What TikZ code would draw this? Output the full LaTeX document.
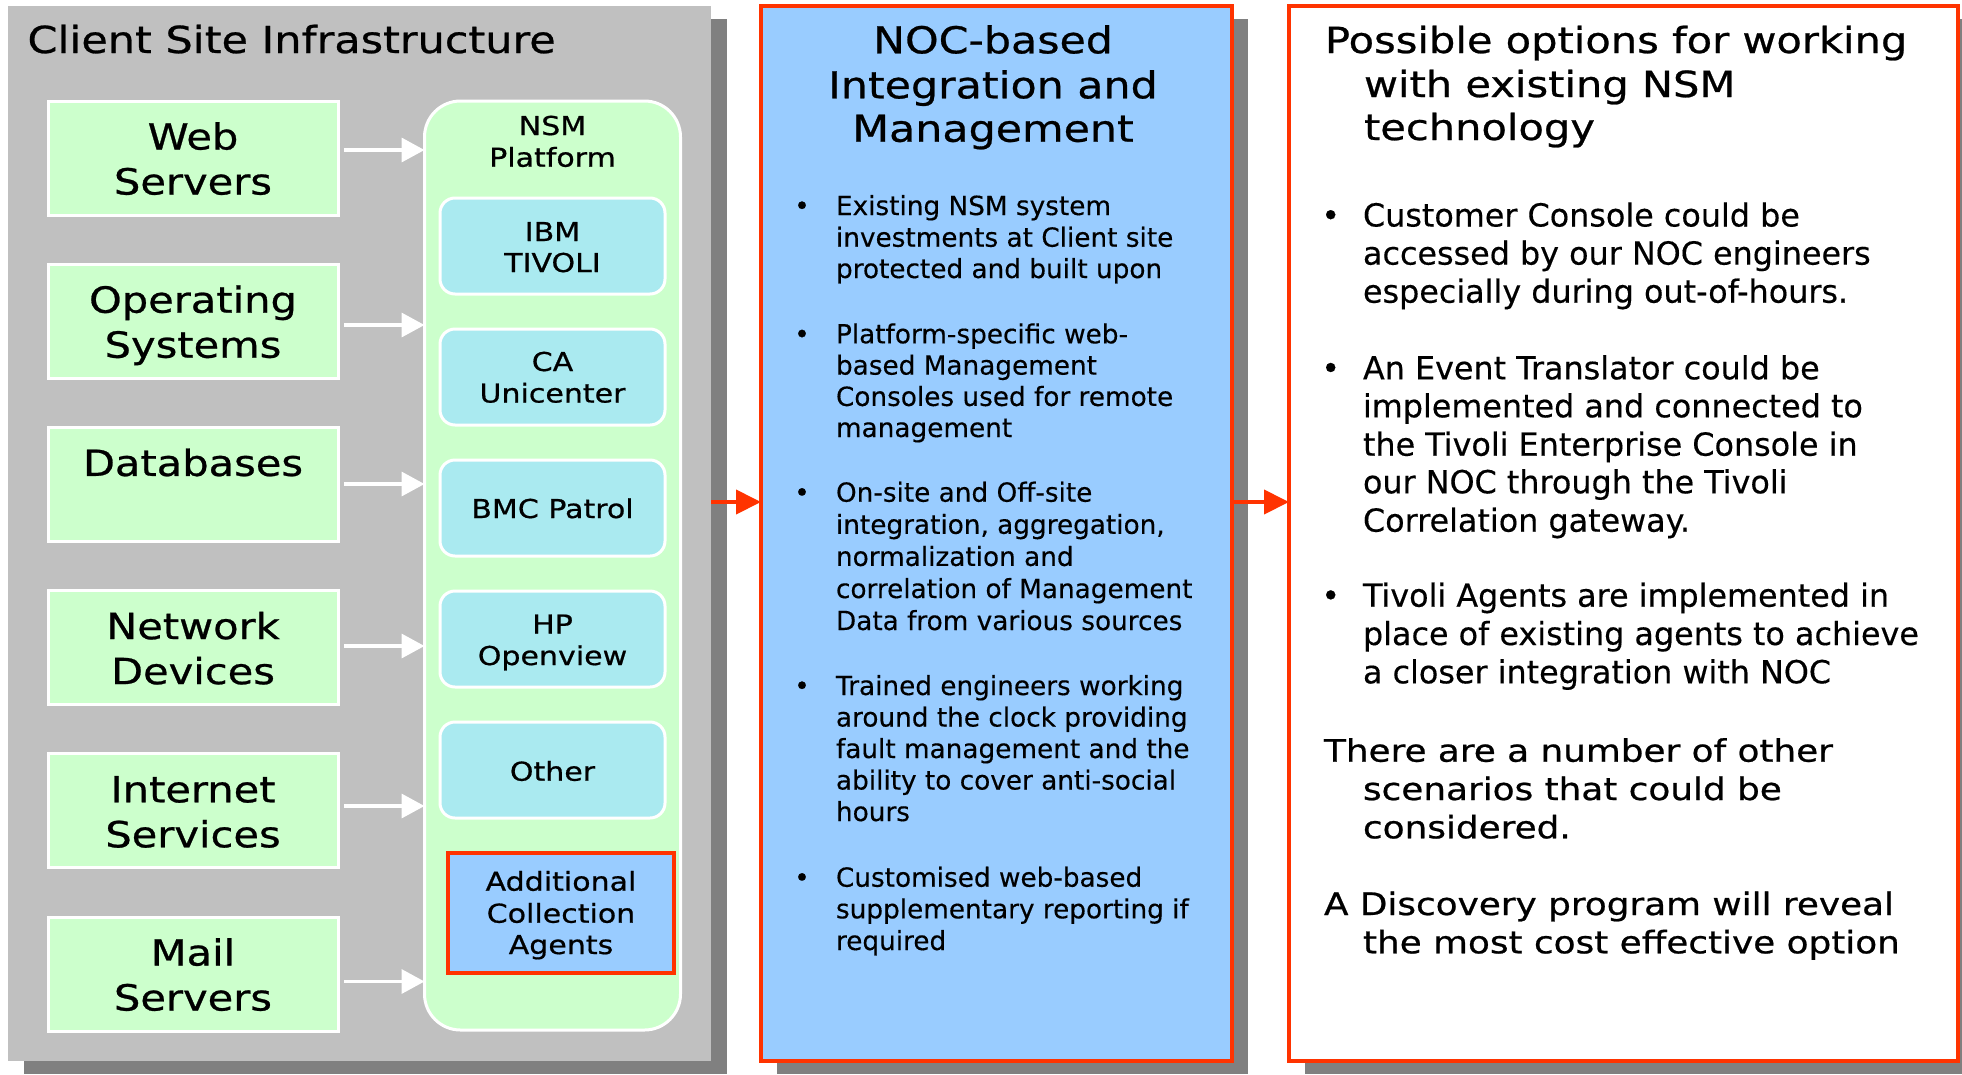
\documentclass[tikz,border=0pt]{standalone}
\usepackage{fontspec}
\setmainfont{DejaVu Sans}
\newfontfamily\vfont[FakeStretch=1.155,FakeBold=0.7]{DejaVu Sans}
\newfontfamily\bfont[FakeBold=0.35]{DejaVu Sans}
\usetikzlibrary{arrows.meta}
\definecolor{panelgray}{RGB}{192,192,192}
\definecolor{shadowgray}{RGB}{128,128,128}
\definecolor{srcgreen}{RGB}{204,255,204}
\definecolor{toolcyan}{RGB}{170,234,240}
\definecolor{nocblue}{RGB}{153,204,255}
\definecolor{redline}{RGB}{255,51,0}
\newcommand\fTitle{\vfont\fontsize{37.2}{44}\selectfont}
\newcommand\fSrc{\vfont\fontsize{36}{45}\selectfont}
\newcommand\fTool{\vfont\fontsize{26}{31}\selectfont}
\newcommand\fMidHead{\vfont\fontsize{37}{44}\selectfont}
\newcommand\fMid{\bfont\fontsize{26.3}{32}\selectfont}
\newcommand\fOpt{\bfont\fontsize{31.8}{38}\selectfont}
\newcommand\fOptHead{\vfont\fontsize{36}{44}\selectfont}
\newcommand\fOptSub{\vfont\fontsize{31}{38}\selectfont}
\begin{document}
\begin{tikzpicture}[x=1pt,y=-1pt,
  every node/.style={inner sep=0pt,outer sep=0pt},
  panel/.style={rectangle,minimum height=1055pt},
  srcbox/.style={rectangle,fill=srcgreen,draw=white,line width=3pt,minimum width=290pt,minimum height=114pt},
  toolbox/.style={rectangle,rounded corners=15pt,fill=toolcyan,draw=white,line width=3pt,minimum width=225pt,minimum height=96pt},
  srctext/.style={font=\fSrc,anchor=base},
  tooltext/.style={font=\fTool,anchor=base},
  midhead/.style={font=\fMidHead,anchor=base},
  midtext/.style={font=\fMid,anchor=base west},
  midbullet/.style={font=\fMid,anchor=base},
  opttext/.style={font=\fOpt,anchor=base west},
  optbullet/.style={font=\fOpt,anchor=base},
  opthead/.style={font=\fOptHead,anchor=base west},
  optsub/.style={font=\fOptSub,anchor=base west},
  warrow/.style={draw=white,line width=3.5pt,-{Triangle[length=23pt,width=24pt]}},
  rarrow/.style={draw=redline,line width=4pt,-{Triangle[length=25pt,width=24pt]}}]
\useasboundingbox (0,0) rectangle (1962,1074);
\fill[white] (0,0) rectangle (1962,1074);
% shadows
\fill[shadowgray] (23.5,19) rectangle (727,1074);
\fill[shadowgray] (777,19) rectangle (1248,1074);
\fill[shadowgray] (1305,19) rectangle (1974,1074);
% panels
\node[panel,fill=panelgray,minimum width=703.5pt] (client) at (359.25,533.5) {};
\node[panel,fill=nocblue,draw=redline,line width=3.5pt,minimum width=471pt] (noc) at (996.5,533.5) {};
\node[panel,fill=white,draw=redline,line width=3.5pt,minimum width=669pt] (opts) at (1623.5,533.5) {};
% left title
\node[font=\fTitle,anchor=base west] (ctitle) at (27.5,53) {Client Site Infrastructure};
% source boxes
\node[srcbox] (web) at (193,158) {};
\node[srcbox] (os) at (193,321.2) {};
\node[srcbox] (db) at (193,484.4) {};
\node[srcbox] (net) at (193,647.6) {};
\node[srcbox] (inet) at (193,810.8) {};
\node[srcbox] (mail) at (193,974) {};
\node[srctext] (webA) at (193,149.5) {Web};
\node[srctext] (webB) at (193,194.5) {Servers};
\node[srctext] (osA) at (193,312.7) {Operating};
\node[srctext] (osB) at (193,357.7) {Systems};
\node[srctext] (dbA) at (193,475.9) {Databases};
\node[srctext] (netA) at (193,639.1) {Network};
\node[srctext] (netB) at (193,684.1) {Devices};
\node[srctext] (inetA) at (193,802.3) {Internet};
\node[srctext] (inetB) at (193,847.3) {Services};
\node[srctext] (mailA) at (193,965.5) {Mail};
\node[srctext] (mailB) at (193,1010.5) {Servers};
% NSM platform
\node[rectangle,rounded corners=36pt,fill=srcgreen,draw=white,line width=3pt,minimum width=256pt,minimum height=929pt] (nsm) at (552.5,565.5) {};
\node[tooltext] (nsmA) at (552.5,135) {NSM};
\node[tooltext] (nsmB) at (552.5,166.7) {Platform};
\node[toolbox] (ibm) at (552.5,246) {};
\node[toolbox] (ca) at (552.5,377) {};
\node[toolbox] (bmc) at (552.5,508) {};
\node[toolbox] (hp) at (552.5,639) {};
\node[toolbox] (other) at (552.5,770) {};
\node[tooltext] (ibmA) at (552.5,241) {IBM};
\node[tooltext] (ibmB) at (552.5,272) {TIVOLI};
\node[tooltext] (caA) at (552.5,371) {CA};
\node[tooltext] (caB) at (552.5,402.5) {Unicenter};
\node[tooltext] (bmcA) at (552.5,518) {BMC Patrol};
\node[tooltext] (hpA) at (552.5,633.5) {HP};
\node[tooltext] (hpB) at (552.5,665) {Openview};
\node[tooltext] (otherA) at (552.5,780.7) {Other};
\node[rectangle,fill=nocblue,draw=redline,line width=3.5pt,minimum width=226pt,minimum height=120pt] (agents) at (561,913) {};
\node[tooltext] (agA) at (561,890.7) {Additional};
\node[tooltext] (agB) at (561,922.7) {Collection};
\node[tooltext] (agC) at (561,954) {Agents};
% white arrows
\coordinate (w1) at (344,150);
\coordinate (w2) at (344,325);
\coordinate (w3) at (344,484);
\coordinate (w4) at (344,646);
\coordinate (w5) at (344,806);
\coordinate (w6) at (344,981.5);
\foreach \w in {w1,w2,w3,w4,w5,w6}{\draw[warrow] (\w) -- (\w -| nsm.west);}
% red arrows
\coordinate (r1) at (711,502);
\coordinate (r2) at (1232,502);
\draw[rarrow] (r1) -- (r1 -| noc.west);
\draw[rarrow] (r2) -- (r2 -| opts.west);
% middle title
\node[midhead] (mhA) at (993,53.3) {NOC-based};
\node[midhead] (mhB) at (993,98.3) {Integration and};
\node[midhead] (mhC) at (993,141.7) {Management};
% middle bullets
\node[midbullet] (mb1) at (802,215) {•};
\node[midbullet] (mb2) at (802,343.3) {•};
\node[midbullet] (mb3) at (802,501.7) {•};
\node[midbullet] (mb4) at (802,695) {•};
\node[midbullet] (mb5) at (802,886.7) {•};
\node[midtext] (m01) at (836,215) {Existing NSM system};
\node[midtext] (m02) at (836,246.7) {investments at Client site};
\node[midtext] (m03) at (836,278) {protected and built upon};
\node[midtext] (m04) at (836,343.3) {Platform-specific web-};
\node[midtext] (m05) at (836,374.6) {based Management};
\node[midtext] (m06) at (836,405.9) {Consoles used for remote};
\node[midtext] (m07) at (836,437) {management};
\node[midtext] (m08) at (836,501.7) {On-site and Off-site};
\node[midtext] (m09) at (836,533.8) {integration, aggregation,};
\node[midtext] (m10) at (836,565.9) {normalization and};
\node[midtext] (m11) at (836,598) {correlation of Management};
\node[midtext] (m12) at (836,630) {Data from various sources};
\node[midtext] (m13) at (836,695) {Trained engineers working};
\node[midtext] (m14) at (836,726.5) {around the clock providing};
\node[midtext] (m15) at (836,758) {fault management and the};
\node[midtext] (m16) at (836,789.5) {ability to cover anti-social};
\node[midtext] (m17) at (836,821) {hours};
\node[midtext] (m18) at (836,886.7) {Customised web-based};
\node[midtext] (m19) at (836,918.3) {supplementary reporting if};
\node[midtext] (m20) at (836,950) {required};
% right column
\node[opthead] (ohA) at (1325,53) {Possible options for working};
\node[opthead] (ohB) at (1364,97) {with existing NSM};
\node[opthead] (ohC) at (1364,140) {technology};
\node[optbullet] (ob1) at (1330.7,226.5) {•};
\node[optbullet] (ob2) at (1330.7,379.3) {•};
\node[optbullet] (ob3) at (1330.7,606.7) {•};
\node[opttext] (o01) at (1363,226.5) {Customer Console could be};
\node[opttext] (o02) at (1363,264.6) {accessed by our NOC engineers};
\node[opttext] (o03) at (1363,302.7) {especially during out-of-hours.};
\node[opttext] (o04) at (1363,379.3) {An Event Translator could be};
\node[opttext] (o05) at (1363,417.3) {implemented and connected to};
\node[opttext] (o06) at (1363,455.7) {the Tivoli Enterprise Console in};
\node[opttext] (o07) at (1363,493.3) {our NOC through the Tivoli};
\node[opttext] (o08) at (1363,531.7) {Correlation gateway.};
\node[opttext] (o09) at (1363,606.7) {Tivoli Agents are implemented in};
\node[opttext] (o10) at (1363,645) {place of existing agents to achieve};
\node[opttext] (o11) at (1363,683.3) {a closer integration with NOC};
\node[optsub] (osA) at (1324,761.7) {There are a number of other};
\node[optsub] (osB) at (1363,800) {scenarios that could be};
\node[optsub] (osC) at (1363,838.3) {considered.};
\node[optsub] (odA) at (1324,915) {A Discovery program will reveal};
\node[optsub] (odB) at (1363,953.3) {the most cost effective option};
\end{tikzpicture}
\end{document}
